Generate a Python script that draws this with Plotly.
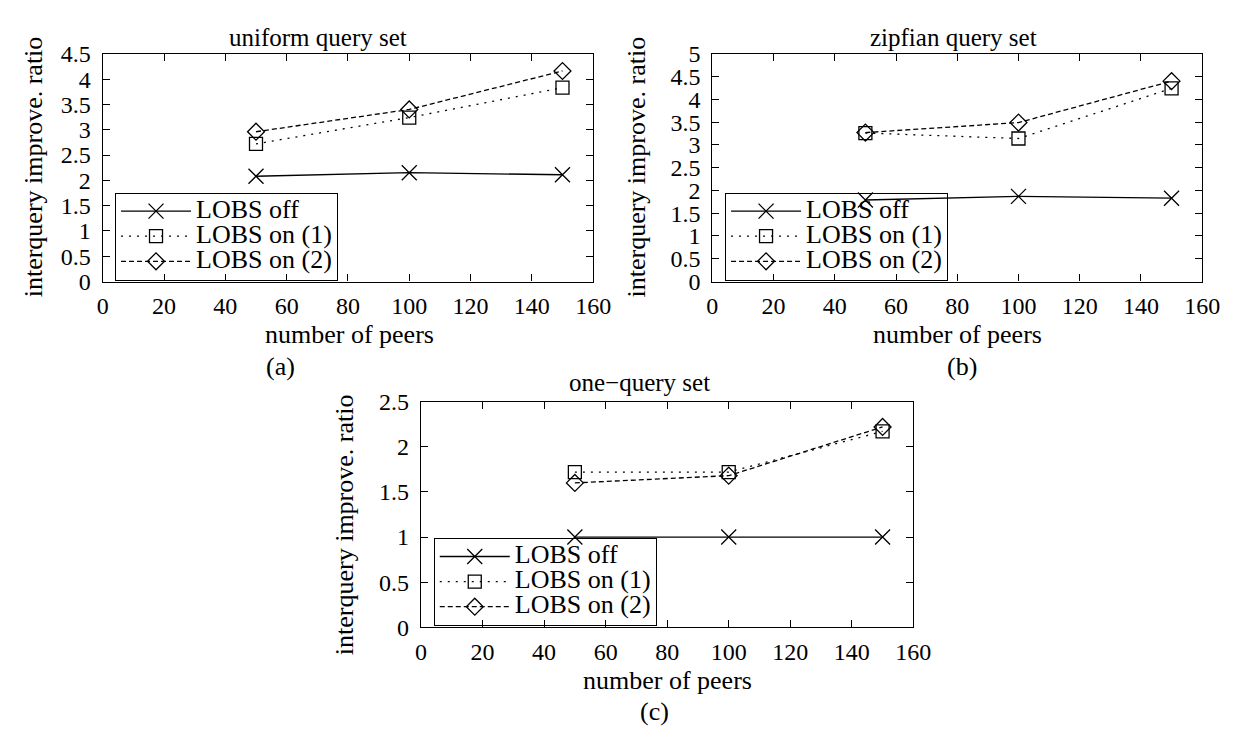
import plotly.graph_objects as go

W, H = 1247, 740

peers = [50, 100, 150]
series_names = ["LOBS off", "LOBS on (1)", "LOBS on (2)"]

uniform_off = [2.08, 2.15, 2.11]
uniform_on1 = [2.72, 3.24, 3.83]
uniform_on2 = [2.96, 3.40, 4.16]

zipf_off = [1.79, 1.87, 1.83]
zipf_on1 = [3.26, 3.14, 4.24]
zipf_on2 = [3.27, 3.49, 4.40]

one_off = [1.0, 1.0, 1.0]
one_on1 = [1.72, 1.72, 2.17]
one_on2 = [1.60, 1.68, 2.22]

titles = ["uniform query set", "zipfian query set", "one\u2212query set"]
sublabels = ["(a)", "(b)", "(c)"]
y_max = [4.5, 5, 2.5]
x_ticks = [0, 20, 40, 60, 80, 100, 120, 140, 160]

FONT = "Liberation Serif"

def px(x):
    return x / W

def py(y):
    return 1 - y / H

# panel boxes in pixels: (left, right, top, bottom)
boxes = [(90.5, 590.5, 34, 270), (712, 1211.5, 34, 270), (415, 917, 394.5, 628.4)]
legend_pos = [(103, 269), (725, 269), (428, 627)]   # left, bottom
title_pos = [(310, 17), (958, 17), (638, 375)]
xtitle_pos = [(342, 325), (962, 325), (666, 684)]
ytitle_pos = [(20, 151), (635, 151), (337, 522)]
sub_pos = [(272, 358), (967, 358), (653, 716)]

data = [
    (uniform_off, uniform_on1, uniform_on2),
    (zipf_off, zipf_on1, zipf_on2),
    (one_off, one_on1, one_on2),
]

styles = [
    dict(dash="solid", symbol="x-thin-open", size=15),
    dict(dash="2px,6px", symbol="square-open", size=13),
    dict(dash="5px,3px", symbol="diamond-open", size=13),
]

LEGEND_TEXT_SIZE = 26

fig = go.Figure()
layout = dict(
    width=W, height=H,
    margin=dict(l=0, r=0, t=0, b=0),
    paper_bgcolor="white", plot_bgcolor="white",
    font=dict(family=FONT, size=24, color="black"),
    showlegend=True,
)
annotations = []

for i in range(3):
    xa = "xaxis" if i == 0 else f"xaxis{i+1}"
    ya = "yaxis" if i == 0 else f"yaxis{i+1}"
    xref = "x" if i == 0 else f"x{i+1}"
    yref = "y" if i == 0 else f"y{i+1}"
    lg = "legend" if i == 0 else f"legend{i+1}"
    l, r, t, b = boxes[i]
    layout[xa] = dict(
        domain=[px(l), px(r)], range=[0, 160], anchor=yref,
        tickvals=x_ticks, ticks="inside", ticklen=7, tickwidth=1, tickcolor="black",
        showline=True, linecolor="black", linewidth=1.2, mirror="allticks",
        showgrid=False, zeroline=False, tickfont=dict(family=FONT, size=24),
        ticklabelstandoff=3,
    )
    layout[ya] = dict(
        domain=[py(b), py(t)], range=[0, y_max[i]], anchor=xref, dtick=0.5, tick0=0,
        ticks="inside", ticklen=7, tickwidth=1, tickcolor="black",
        showline=True, linecolor="black", linewidth=1.2, mirror="allticks",
        showgrid=False, zeroline=False, tickfont=dict(family=FONT, size=24),
        ticklabelstandoff=6,
    )
    lx, ly = legend_pos[i]
    layout[lg] = dict(
        x=px(lx), y=py(ly), xanchor="left", yanchor="bottom",
        bordercolor="black", borderwidth=1, bgcolor="rgba(255,255,255,0)",
        font=dict(family=FONT, size=17, color="black"),
        tracegroupgap=0, itemwidth=70,
    )
    for k in range(3):
        st = styles[k]
        label = f'<span style="font-size:{LEGEND_TEXT_SIZE}px">{series_names[k]}</span>'
        fig.add_trace(go.Scatter(
            x=peers, y=data[i][k], name=label, mode="lines+markers",
            xaxis=xref, yaxis=yref, legend=lg,
            line=dict(color="black", width=1.3, dash=st["dash"]),
            marker=dict(symbol=st["symbol"], size=st["size"], color="black",
                        line=dict(color="black", width=1.3)),
        ))
    annotations.append(dict(text=titles[i], x=px(title_pos[i][0]), y=py(title_pos[i][1]),
                            xref="paper", yref="paper", showarrow=False,
                            xanchor="center", yanchor="middle",
                            font=dict(family=FONT, size=25)))
    annotations.append(dict(text="number of peers", x=px(xtitle_pos[i][0]), y=py(xtitle_pos[i][1]),
                            xref="paper", yref="paper", showarrow=False,
                            xanchor="center", yanchor="middle",
                            font=dict(family=FONT, size=26)))
    annotations.append(dict(text="interquery improve. ratio", x=px(ytitle_pos[i][0]), y=py(ytitle_pos[i][1]),
                            xref="paper", yref="paper", showarrow=False, textangle=-90,
                            xanchor="center", yanchor="middle",
                            font=dict(family=FONT, size=26)))
    annotations.append(dict(text=sublabels[i], x=px(sub_pos[i][0]), y=py(sub_pos[i][1]),
                            xref="paper", yref="paper", showarrow=False,
                            xanchor="center", yanchor="middle",
                            font=dict(family=FONT, size=26)))

layout["annotations"] = annotations
fig.update_layout(**layout)
fig.write_html("out.html")
